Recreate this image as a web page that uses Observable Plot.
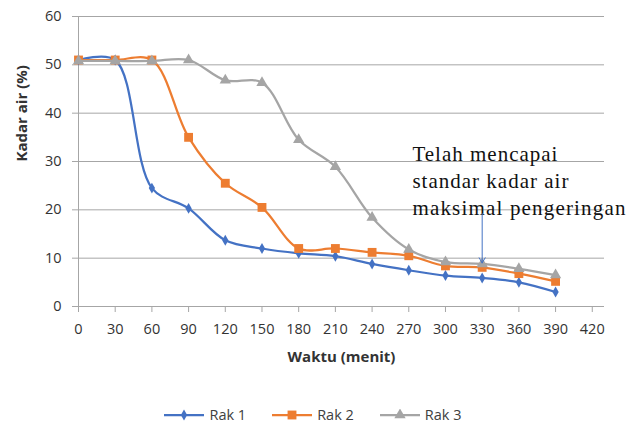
<!DOCTYPE html>
<html><head><meta charset="utf-8">
<script src="https://cdn.jsdelivr.net/npm/d3@7"></script>
<script src="https://cdn.jsdelivr.net/npm/@observablehq/plot@0.6"></script>
<style>
body{margin:0;background:#fff;font-family:"Open Sans",sans-serif;}
#wrap{position:relative;width:626px;height:425px;background:#fff;overflow:hidden;}
#legend{position:absolute;left:0;top:407px;width:626px;height:16px;display:flex;justify-content:center;gap:26px;font-size:14.5px;color:#404040;line-height:16px;}
#legend .item{display:flex;align-items:center;gap:5px;height:16px;}
</style></head><body><div id="wrap"><div id="chart"></div><div id="legend"></div></div>
<script>
const time = [0, 30, 60, 90, 120, 150, 180, 210, 240, 270, 300, 330, 360, 390];
const rak1 = [51, 51, 24.5, 20.3, 13.7, 12, 11, 10.4, 8.8, 7.5, 6.4, 5.9, 5.0, 3.0];
const rak2 = [51, 51, 51, 35, 25.5, 20.5, 12, 12, 11.2, 10.5, 8.4, 8.1, 6.8, 5.2];
const rak3 = [50.8, 50.8, 50.8, 51, 46.8, 46.3, 34.5, 28.9, 18.4, 11.8, 9.2, 8.8, 7.8, 6.5];
const seriesNames = ["Rak 1", "Rak 2", "Rak 3"];
const xTicks = [0, 30, 60, 90, 120, 150, 180, 210, 240, 270, 300, 330, 360, 390, 420];
const yTicks = [0, 10, 20, 30, 40, 50, 60];
const xTitle = "Waktu (menit)";
const yTitle = "Kadar air (%)";
const annotationLines = ["Telah mencapai", "standar kadar air", "maksimal pengeringan"];

const colors = ["#4472C4", "#ED7D31", "#A5A5A5"];
const symbols = ["diamond", "square", "triangle"];
const radii = [3.3, 5, 4.2];
const seriesData = [rak1, rak2, rak3];
const rows = seriesNames.map((s, i) => time.map((t, j) => ({series: s, t, v: seriesData[i][j]})));

const marks = [
  Plot.gridY(yTicks, {stroke: "#a6a6a6", strokeOpacity: 1, strokeWidth: 1}),
  Plot.axisY(yTicks, {tickSize: 6, tickPadding: 11, stroke: "#a6a6a6", fill: "#333", label: null, fontSize: 14.5}),
  Plot.axisX(xTicks, {tickSize: 6, tickPadding: 11, stroke: "#a6a6a6", fill: "#333", label: null, fontSize: 14.5}),
  Plot.ruleX([0], {stroke: "#a6a6a6"}),
  Plot.ruleY([0], {stroke: "#a6a6a6"}),
  Plot.text([xTitle], {frameAnchor: "bottom", dy: 55, fontWeight: "bold", fontSize: 15, fill: "#333"}),
  Plot.text([yTitle], {frameAnchor: "left", rotate: -90, dx: -56, fontWeight: "bold", fontSize: 15, fill: "#333"})
];
rows.forEach((data, i) => {
  marks.push(Plot.line(data, {x: "t", y: "v", stroke: colors[i], strokeWidth: 2.25, curve: "catmull-rom"}));
  marks.push(Plot.dot(data, {x: "t", y: "v", fill: colors[i], stroke: "none", symbol: symbols[i], r: radii[i]}));
});
const annY = [31.4, 25.95, 20.36];
annotationLines.forEach((line, i) => {
  marks.push(Plot.text([line], {x: 273, y: annY[i], textAnchor: "start", fontFamily: "Liberation Serif", fontSize: 21, fill: "#111"}));
});
marks.push(Plot.arrow([{}], {x1: 330, y1: 19.2, x2: 330, y2: 9.0, stroke: "#4472C4", strokeWidth: 1, headLength: 9}));

const plot = Plot.plot({
  width: 626, height: 400,
  marginLeft: 78, marginRight: 22, marginTop: 16, marginBottom: 94,
  style: {fontFamily: "Open Sans", fontSize: "14.5px", color: "#333", background: "#fff"},
  x: {domain: [0, 430]},
  y: {domain: [0, 60]},
  marks
});
document.getElementById("chart").appendChild(plot);

const lens = [145, 156, 213];
d3.select(plot).selectAll("text").each(function() {
  const k = annotationLines.indexOf(this.textContent);
  if (k >= 0) { this.setAttribute("textLength", lens[k]); this.setAttribute("lengthAdjust", "spacing"); }
});

const legend = d3.select("#legend");
seriesNames.forEach((s, i) => {
  const it = legend.append("div").attr("class", "item");
  const sv = it.append("svg").attr("width", 40).attr("height", 12);
  sv.append("line").attr("x1", 0).attr("x2", 40).attr("y1", 6).attr("y2", 6).attr("stroke", colors[i]).attr("stroke-width", 2.25);
  const sym = {diamond: d3.symbolDiamond, square: d3.symbolSquare, triangle: d3.symbolTriangle}[symbols[i]];
  sv.append("path").attr("transform", "translate(20,6)").attr("d", d3.symbol(sym, Math.PI * radii[i] * radii[i])()).attr("fill", colors[i]);
  it.append("span").text(s);
});
</script></body></html>
